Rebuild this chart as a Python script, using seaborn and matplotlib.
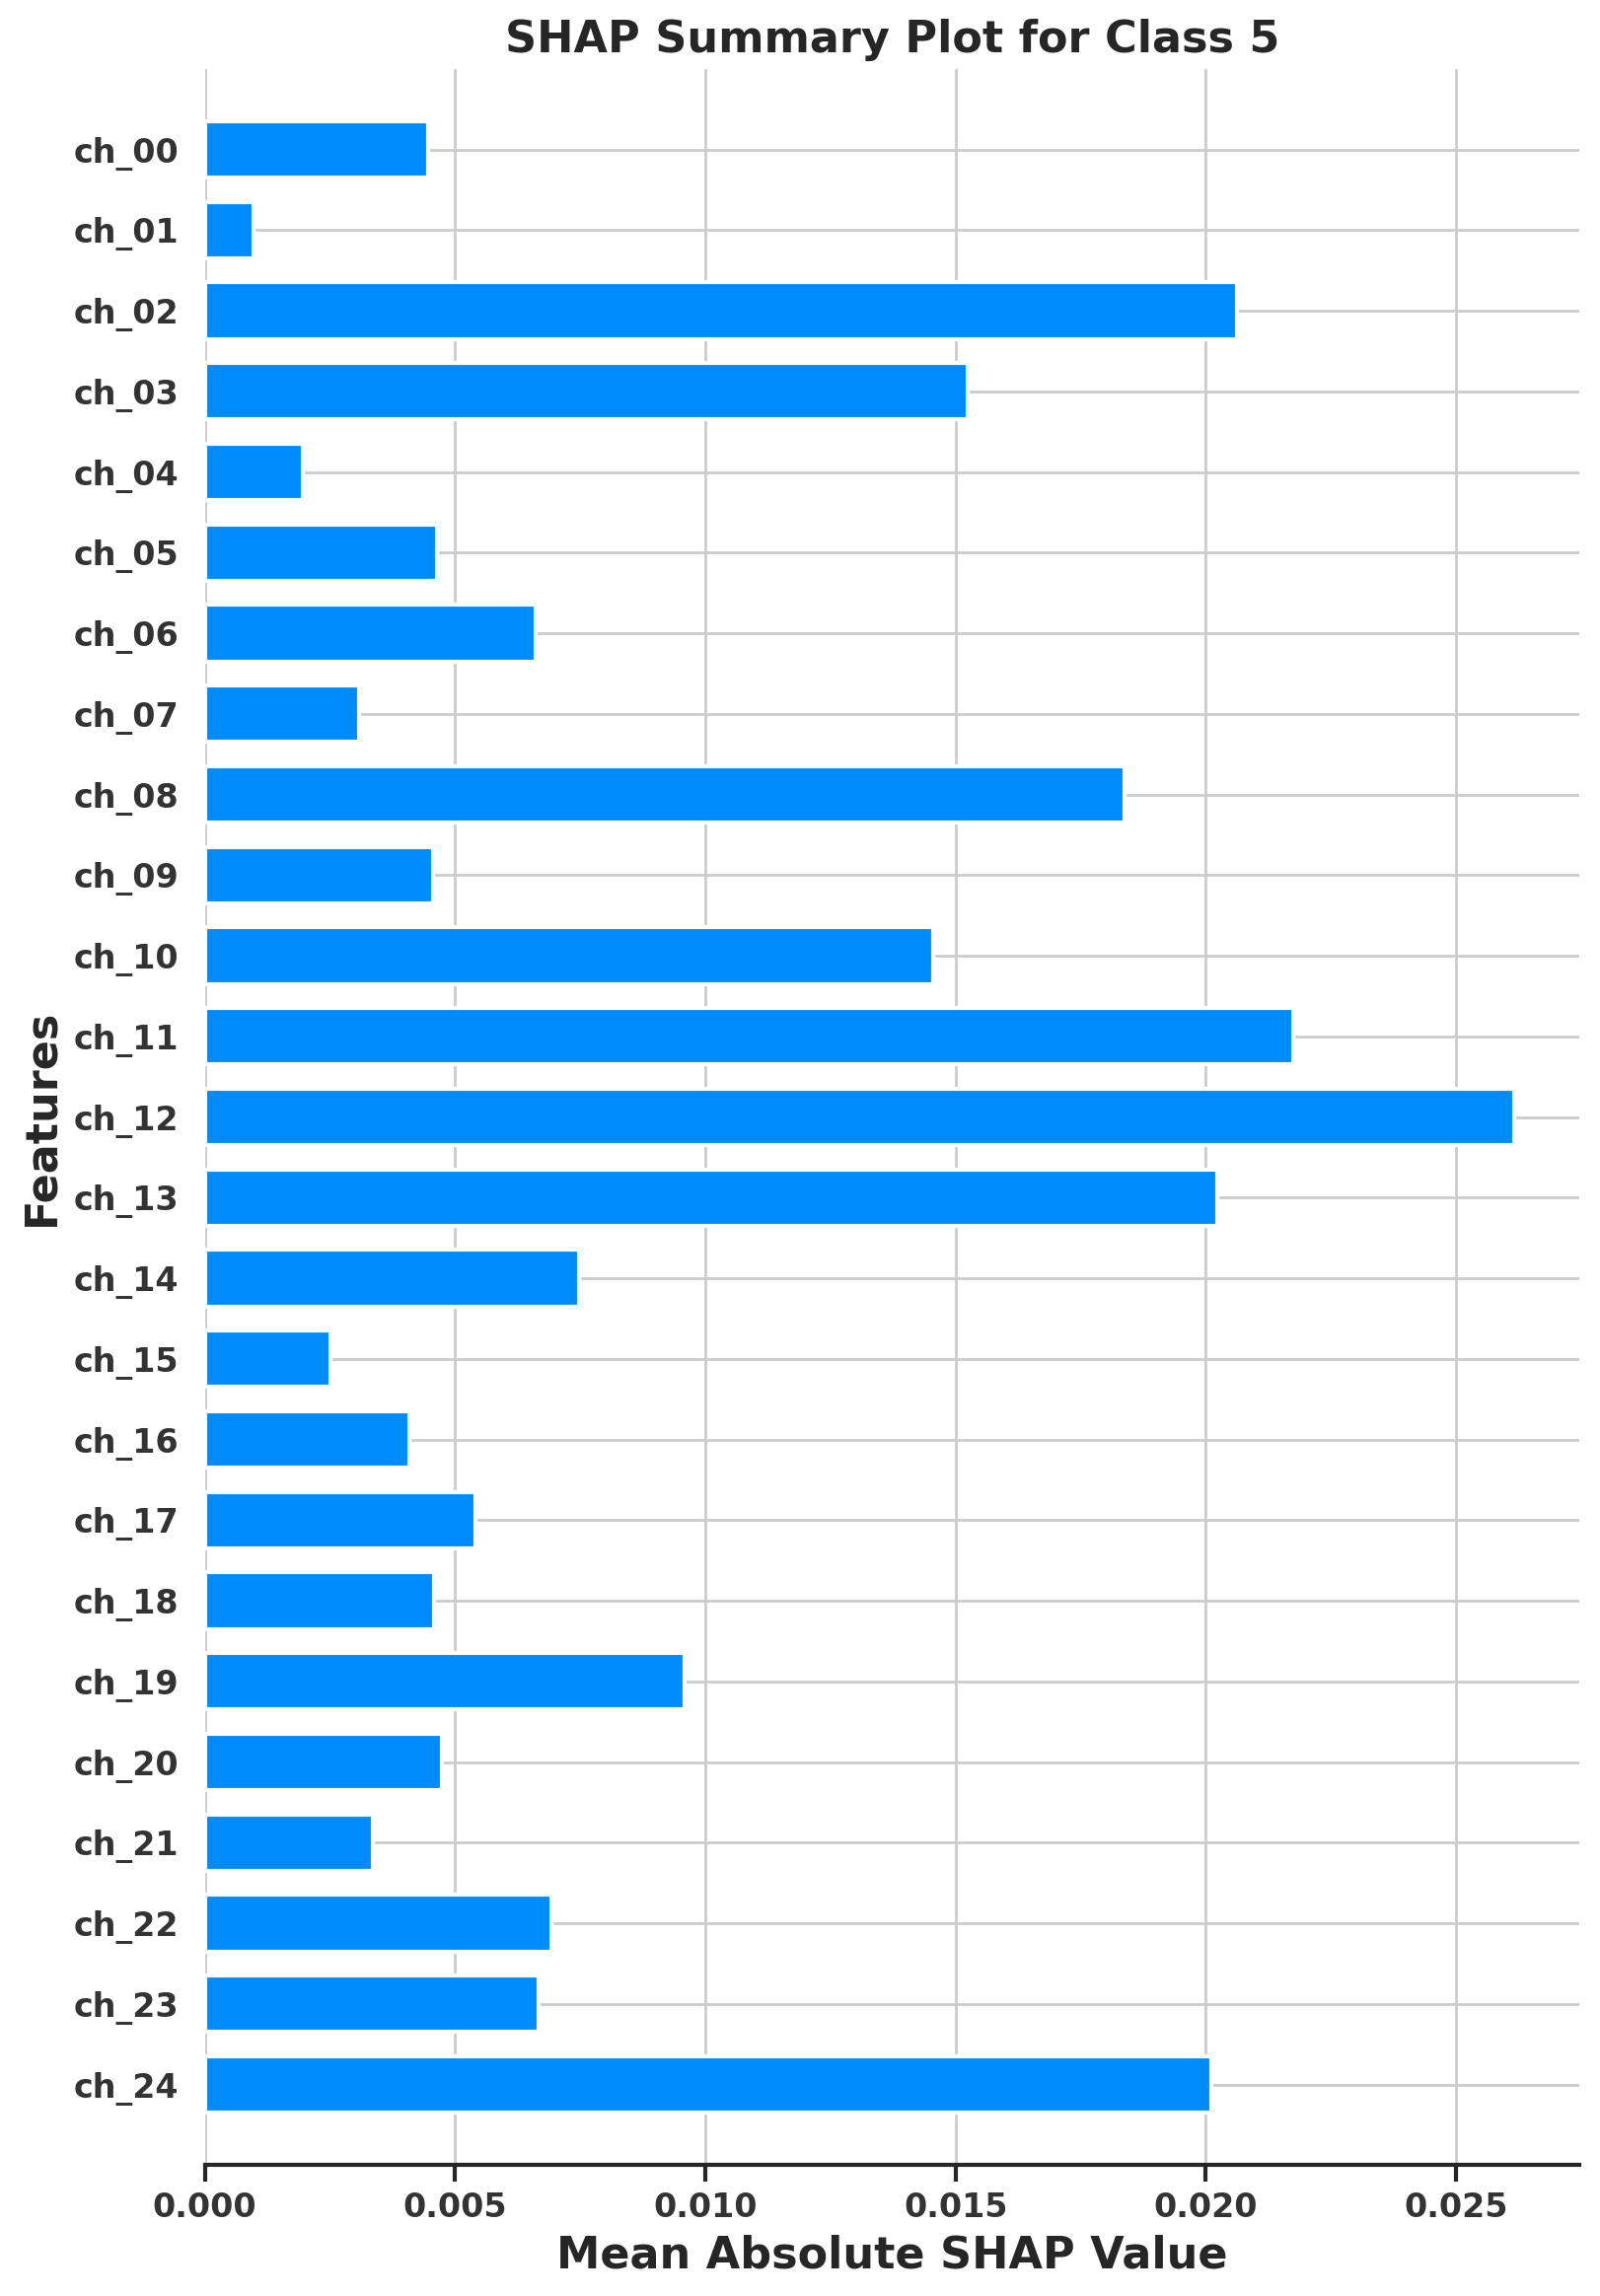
import matplotlib
matplotlib.use("Agg")
import matplotlib.pyplot as plt
import seaborn as sns
import pandas as pd

# mean |SHAP| per channel, class 5
FEATURES = [f"ch_{i:02d}" for i in range(25)]
MEAN_ABS_SHAP = [0.00447, 0.00098, 0.02062, 0.01524, 0.00195,
                 0.00464, 0.00660, 0.00309, 0.01838, 0.00455,
                 0.01455, 0.02174, 0.02615, 0.02022, 0.00748,
                 0.00251, 0.00409, 0.00540, 0.00458, 0.00958,
                 0.00473, 0.00335, 0.00692, 0.00666, 0.02010]
BAR_COLOR = "#008BFB"

df = pd.DataFrame({"feature": FEATURES, "value": MEAN_ABS_SHAP})

sns.set_theme(style="whitegrid")
plt.rcParams["font.family"] = ["DejaVu Sans"]

fig, ax = plt.subplots(figsize=(8.11, 11.64), dpi=200)
fig.subplots_adjust(left=0.128, right=0.987, top=0.970, bottom=0.057)

sns.barplot(data=df, x="value", y="feature", orient="h", color=BAR_COLOR,
            saturation=1, width=0.7, edgecolor="white", linewidth=1.5, ax=ax)

ax.set_ylim(len(FEATURES), -1)
ax.set_xlim(0, max(MEAN_ABS_SHAP) * 1.05)
ax.grid(True, axis="both", color="#cccccc", linewidth=1.0)
ax.set_axisbelow(True)

sns.despine(ax=ax, left=True)
ax.spines["bottom"].set_color("#262626")
ax.spines["bottom"].set_linewidth(1.5)
ax.tick_params(axis="x", bottom=True, length=6, width=1.5, color="#262626")
ax.tick_params(axis="y", left=False)

for lbl in ax.get_xticklabels() + ax.get_yticklabels():
    lbl.set_fontweight("bold")
    lbl.set_fontsize(12)
    lbl.set_color("#333333")
ax.xaxis.set_major_formatter(matplotlib.ticker.FormatStrFormatter("%.3f"))

ax.set_title("SHAP Summary Plot for Class 5", fontsize=16, fontweight="bold")
ax.set_xlabel("Mean Absolute SHAP Value", fontsize=16, fontweight="bold")
ax.set_ylabel("Features", fontsize=16, fontweight="bold")

fig.savefig("out.png", dpi=200)
plt.close(fig)
